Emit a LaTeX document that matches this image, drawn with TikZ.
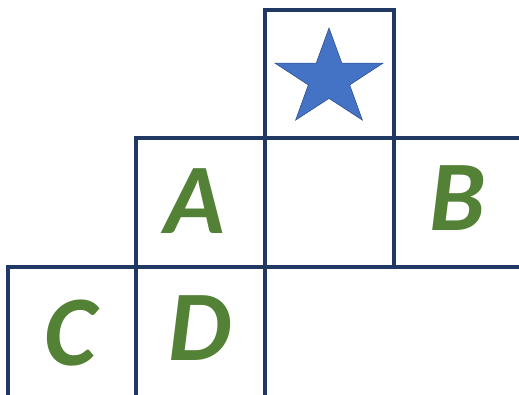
\documentclass[tikz,border=0pt]{standalone}
\usepackage{fontspec}
\setmainfont{Carlito}
\definecolor{gridnavy}{HTML}{1F3864}
\definecolor{lettergreen}{HTML}{538135}
\definecolor{starblue}{HTML}{4472C4}
\definecolor{starline}{HTML}{2F528F}
\begin{document}
\begin{tikzpicture}[x=1pt,y=-1pt,
  gridline/.style={draw=gridnavy,line width=3.2pt,line cap=rect},
  letter/.style={text=lettergreen,font=\fontsize{100}{100}\selectfont\bfseries\itshape,anchor=base,inner sep=0pt}]
\useasboundingbox (0,0) rectangle (519,394);
\clip (0,0) rectangle (519,394);
% grid
\draw[gridline] (265,10) rectangle (394,138);
\draw[gridline] (136,138) -- (519,138);
\draw[gridline] (8,267) -- (519,267);
\draw[gridline] (136,138) -- (136,400);
\draw[gridline] (265,138) -- (265,400);
\draw[gridline] (394,138) -- (394,267);
\draw[gridline] (8,267) -- (8,400);
% star
\def\R{50.9}\def\r{19.5}\def\sx{1.115}
\fill[starblue,draw=starline,line width=0.6pt]
  (329,28)
  -- ({329+\sx*\r*sin(36)},{78.9-\r*cos(36)})
  -- ({329+\sx*\R*sin(72)},{78.9-\R*cos(72)})
  -- ({329+\sx*\r*sin(108)},{78.9-\r*cos(108)})
  -- ({329+\sx*\R*sin(144)},{78.9-\R*cos(144)})
  -- (329,{78.9+\r})
  -- ({329-\sx*\R*sin(144)},{78.9-\R*cos(144)})
  -- ({329-\sx*\r*sin(108)},{78.9-\r*cos(108)})
  -- ({329-\sx*\R*sin(72)},{78.9-\R*cos(72)})
  -- ({329-\sx*\r*sin(36)},{78.9-\r*cos(36)})
  -- cycle;
% letters
\node[letter] (A) at (195,233) {A};
\node[letter] (B) at (458,230) {B};
\node[letter] (C) at (70,365) {C};
\node[letter] (D) at (200,360) {D};
\end{tikzpicture}
\end{document}
